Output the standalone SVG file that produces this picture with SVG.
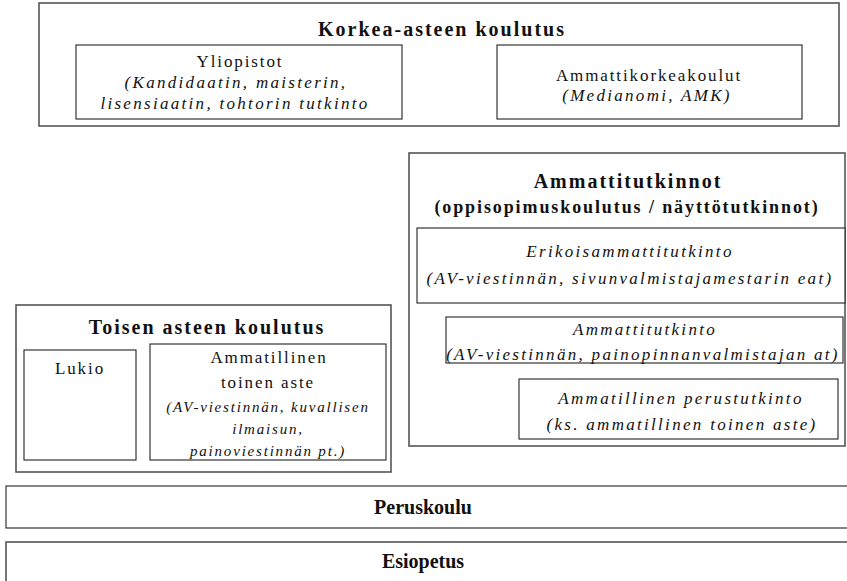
<svg xmlns="http://www.w3.org/2000/svg" width="847" height="581" viewBox="0 0 847 581">
<style>
rect{fill:#fff;}
.o{stroke:#555;stroke-width:1.6;}
.i{stroke:#222;stroke-width:1.1;}
text{font-family:"Liberation Serif","Times New Roman",serif;fill:#111;text-anchor:middle;}
.h{font-weight:bold;font-size:20px;letter-spacing:2px;}
.hs{font-weight:bold;font-size:18px;letter-spacing:1.9px;}
.n{font-size:17px;letter-spacing:1.9px;}
.it{font-size:17px;font-style:italic;letter-spacing:2.3px;}
.its{font-size:15px;font-style:italic;letter-spacing:1.8px;}
.hc{font-weight:bold;font-size:20px;}
</style>
<rect width="847" height="581" fill="#fff"/>
<g id="korkea">
<rect class="o" x="39" y="3" width="800" height="123"/>
<text class="h" x="442" y="36">Korkea-asteen koulutus</text>
</g>
<g id="yliopistot">
<rect class="i" x="76" y="45" width="326" height="74"/>
<text class="n" x="240" y="67">Yliopistot</text>
<text class="it" x="236" y="88">(Kandidaatin, maisterin,</text>
<text class="it" x="235" y="109">lisensiaatin, tohtorin tutkinto</text>
</g>
<g id="amk">
<rect class="i" x="497" y="45" width="305" height="74"/>
<text class="n" x="649" y="81">Ammattikorkeakoulut</text>
<text class="it" x="647" y="101">(Medianomi, AMK)</text>
</g>
<g id="ammattitutkinnot">
<rect class="o" x="409" y="153" width="436" height="293"/>
<text class="h" x="628" y="188">Ammattitutkinnot</text>
<text class="hs" x="627" y="213">(oppisopimuskoulutus / näyttötutkinnot)</text>
</g>
<g id="eat">
<rect class="i" x="417" y="228" width="428" height="75"/>
<text class="it" x="630" y="257">Erikoisammattitutkinto</text>
<text class="it" x="630" y="284">(AV-viestinnän, sivunvalmistajamestarin eat)</text>
</g>
<g id="at">
<rect class="i" x="446" y="317" width="397" height="46"/>
<text class="it" x="645" y="335">Ammattitutkinto</text>
<text class="it" x="643" y="360">(AV-viestinnän, painopinnanvalmistajan at)</text>
</g>
<g id="pt">
<rect class="i" x="519" y="379" width="319" height="60"/>
<text class="it" x="681" y="404">Ammatillinen perustutkinto</text>
<text class="it" x="682" y="430">(ks. ammatillinen toinen aste)</text>
</g>
<g id="toinen">
<rect class="o" x="16" y="305" width="375" height="167"/>
<text class="h" x="207" y="334">Toisen asteen koulutus</text>
</g>
<g id="lukio">
<rect class="i" x="24" y="350" width="112" height="110"/>
<text class="n" x="80" y="374">Lukio</text>
</g>
<g id="ammatillinen">
<rect class="i" x="150" y="344" width="236" height="116"/>
<text class="n" x="269" y="363">Ammatillinen</text>
<text class="n" x="268" y="388">toinen aste</text>
<text class="its" x="268" y="412">(AV-viestinnän, kuvallisen</text>
<text class="its" x="268" y="434">ilmaisun,</text>
<text class="its" x="268" y="456">painoviestinnän pt.)</text>
</g>
<g id="peruskoulu">
<rect class="i" x="6" y="486" width="850" height="42"/>
<text class="hc" x="423" y="514">Peruskoulu</text>
</g>
<g id="esiopetus">
<rect class="o" x="6" y="542" width="850" height="50"/>
<text class="hc" x="423" y="568">Esiopetus</text>
</g>
<g id="connectors"/>
</svg>
